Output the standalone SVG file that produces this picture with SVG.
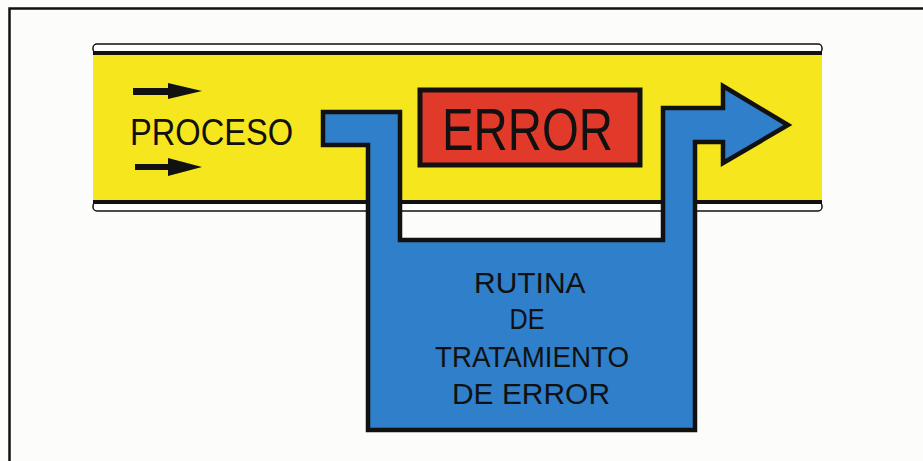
<svg xmlns="http://www.w3.org/2000/svg" width="923" height="461" viewBox="0 0 923 461">
<style>
.ln{stroke:#111;fill:none}
.lbl{font-family:"Liberation Sans",Arial,sans-serif;fill:#111}
.blk{fill:#111}
</style>
<rect x="0" y="0" width="923" height="461" fill="#fcfcfb"/>
<g id="frame">
<path class="ln" stroke-width="2.5" d="M9.5,461 V8.5 H923"/>
</g>
<g id="proceso">
<rect x="93" y="54" width="729" height="147" fill="#f6e61e"/>
<rect x="93" y="44" width="729" height="9" rx="4" fill="#fff" stroke="#111" stroke-width="1.5"/>
<line x1="93" y1="53" x2="822" y2="53" stroke="#111" stroke-width="4"/>
<line x1="93" y1="202" x2="822" y2="202" stroke="#111" stroke-width="4"/>
<rect x="93" y="202" width="729" height="9" rx="4" fill="#fff" stroke="#111" stroke-width="1.5"/>
<line x1="93" y1="202" x2="822" y2="202" stroke="#111" stroke-width="4"/>
<polygon class="blk" points="133,88 168,88 168,83 202,91 168,99 168,95 133,95"/>
<polygon class="blk" points="135,164 168,164 168,158 202,167 168,176 168,170 135,170"/>
<text class="lbl" x="130" y="145" font-size="37" textLength="163" lengthAdjust="spacingAndGlyphs">PROCESO</text>
</g>
<g id="error">
<rect x="420" y="90" width="220" height="75" fill="#e23a2a" stroke="#111" stroke-width="5"/>
<text class="lbl" x="442" y="150" font-size="59" textLength="171" lengthAdjust="spacingAndGlyphs">ERROR</text>
</g>
<g id="connectors">
<polygon id="ruta" points="323,112 400,112 400,240 663,240 663,108 723,108 723,86 788,125 723,163 723,142 695,142 695,430 368,430 368,145 323,145" fill="#2f7fca" stroke="#111" stroke-width="4.5" stroke-linejoin="miter"/>
</g>
<g id="rutina">
<text class="lbl" font-size="29" text-anchor="middle">
<tspan x="533" y="293" textLength="110" lengthAdjust="spacingAndGlyphs">RUTINA</tspan>
<tspan x="531" y="329" textLength="35" lengthAdjust="spacingAndGlyphs">DE</tspan>
<tspan x="536" y="367" textLength="194" lengthAdjust="spacingAndGlyphs">TRATAMIENTO</tspan>
<tspan x="531" y="404" textLength="158" lengthAdjust="spacingAndGlyphs">DE ERROR</tspan>
</text>
</g>
</svg>
